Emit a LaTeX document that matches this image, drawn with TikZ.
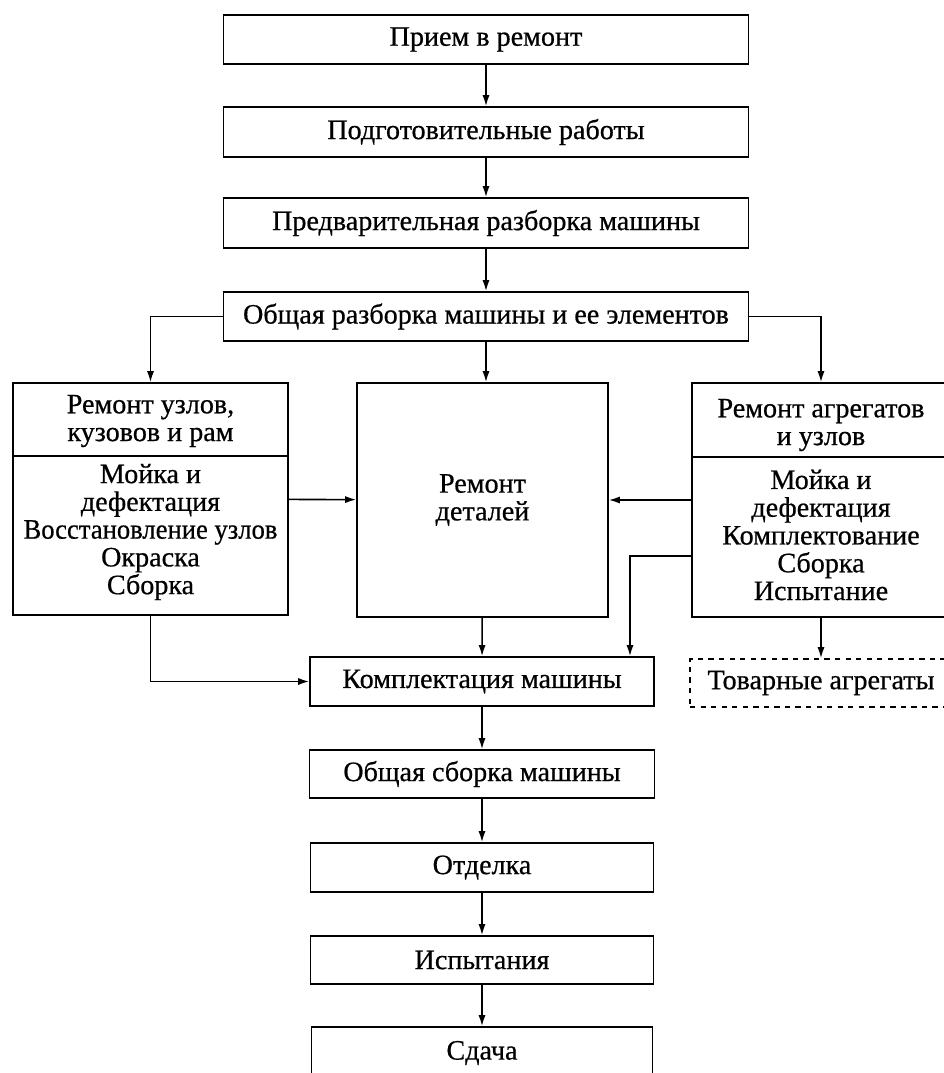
\documentclass[tikz,border=0pt]{standalone}
\usepackage{fontspec}
\setmainfont{Liberation Serif}[FakeBold=0.6]
\usetikzlibrary{arrows.meta}
\tikzset{
  txt/.style={align=center, inner sep=0pt, font=\fontsize{16}{15.8}\selectfont},
  block/.style={txt, draw, line width=0.9pt},
  flow/.style={line width=0.9pt, -{Latex[length=2.2mm,width=1.4mm]}},
}
\begin{document}
\begin{tikzpicture}[x=0.02cm, y=-0.02cm]
  \useasboundingbox (0,0) rectangle (944,1073);
  % main line, top part
  \node[block, minimum width=10.5cm, minimum height=0.98cm] (priem) at (486,39.5) {Прием в ремонт};
  \node[block, minimum width=10.5cm, minimum height=1cm] (podgot) at (486,132) {Подготовительные работы};
  \node[block, minimum width=10.5cm, minimum height=1cm] (predv) at (486,223) {Предварительная разборка машины};
  \node[block, minimum width=10.5cm, minimum height=0.98cm] (razb) at (486,316.5) {Общая разборка машины и ее элементов};
  % three repair boxes
  \node[block, minimum width=5.5cm, minimum height=4.64cm] (uzly) at (150.5,499) {};
  \node[txt] (uzlytop) at (150.5,421) {Ремонт узлов,\\кузовов и рам};
  \node[txt] (uzlybot) at (150.5,532) {Мойка и\\дефектация\\\scalebox{0.947}[1]{Восстановление узлов}\\Окраска\\Сборка};
  \node[block, minimum width=5.02cm, minimum height=4.68cm] (detali) at (482.5,500) {Ремонт\\деталей};
  \node[block, minimum width=5.16cm, minimum height=4.68cm] (agreg) at (821,500) {};
  \node[txt] (agregtop) at (821,425) {Ремонт агрегатов\\и узлов};
  \node[txt] (agregbot) at (821,535) {Мойка и\\дефектация\\Комплектование\\Сборка\\Испытание};
  \coordinate (ldiv) at (0,456);
  \coordinate (rdiv) at (0,457);
  \draw[line width=0.9pt] (uzly.west |- ldiv) -- (uzly.east |- ldiv);
  \draw[line width=0.9pt] (agreg.west |- rdiv) -- (agreg.east |- rdiv);
  % main line, bottom part
  \node[block, minimum width=6.88cm, minimum height=0.98cm] (kompl) at (482,681.5) {Комплектация машины};
  \node[block, dashed, minimum width=5.24cm, minimum height=0.96cm] (tovar) at (821,683) {Товарные агрегаты};
  \node[block, minimum width=6.9cm, minimum height=0.96cm] (sborka) at (482,774) {Общая сборка машины};
  \node[block, minimum width=6.86cm, minimum height=0.98cm] (otdelka) at (482,867.5) {Отделка};
  \node[block, minimum width=6.86cm, minimum height=0.96cm] (ispyt) at (482,960) {Испытания};
  \node[block, minimum width=6.82cm, minimum height=1.04cm] (sdacha) at (482,1053) {Сдача};
  \coordinate (rout) at (0,556);
  \coordinate (rdown) at (630,0);

  \path[flow] (priem) edge (podgot)
    (podgot) edge (predv)
    (predv) edge (razb)
    (razb.south) edge (razb.south |- detali.north)
    (uzly) edge (detali)
    (agreg.west) edge (detali.east)
    (detali) edge (kompl)
    (agreg.south) edge (agreg.south |- tovar.north)
    (kompl) edge (sborka)
    (sborka) edge (otdelka)
    (otdelka) edge (ispyt)
    (ispyt) edge (sdacha);
  \draw[flow] (razb.west) -| (uzly.north);
  \draw[flow] (razb.east) -| (agreg.north);
  \draw[flow] (uzly.south) |- (kompl.west);
  \draw[flow] (agreg.west |- rout) -| (rdown |- kompl.north);
\end{tikzpicture}
\end{document}
